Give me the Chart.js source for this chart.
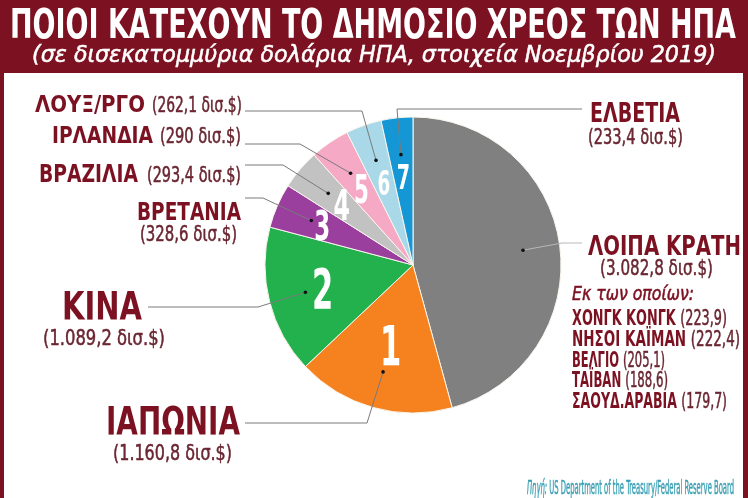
<!DOCTYPE html>
<html lang="el">
<head>
<meta charset="utf-8">
<title>Ποιοι κατέχουν το δημόσιο χρέος των ΗΠΑ</title>
<script src="https://cdn.jsdelivr.net/npm/chart.js@4.4.1/dist/chart.umd.min.js"></script>
<style>
  html, body { margin: 0; padding: 0; background: #fff; }
  #chart { display: block; }
</style>
</head>
<body>
<canvas id="chart" width="748" height="498"></canvas>
<script>
// Holders of US public debt, Nov 2019, billions USD (clockwise from 12 o'clock)
const holders = ["ΛΟΙΠΑ ΚΡΑΤΗ", "ΙΑΠΩΝΙΑ", "ΚΙΝΑ", "ΒΡΕΤΑΝΙΑ", "ΒΡΑΖΙΛΙΑ", "ΙΡΛΑΝΔΙΑ", "ΛΟΥΞ/ΡΓΟ", "ΕΛΒΕΤΙΑ"];
const holdings = [3082.8, 1160.8, 1089.2, 328.6, 293.4, 290, 262.1, 233.4];
const ranks = ["", "1", "2", "3", "4", "5", "6", "7"];

// "of which" list under the rest of the world
const otherNames = ["ΧΟΝΓΚ ΚΟΝΓΚ", "ΝΗΣΟΙ ΚΑΪΜΑΝ", "ΒΕΛΓΙΟ", "ΤΑΪΒΑΝ", "ΣΑΟΥΔ.ΑΡΑΒΙΑ"];
const otherValues = [223.9, 222.4, 205.1, 188.6, 179.7];

const title = "ΠΟΙΟΙ ΚΑΤΕΧΟΥΝ ΤΟ ΔΗΜΟΣΙΟ ΧΡΕΟΣ ΤΩΝ ΗΠΑ";
const subtitle = "(σε δισεκατομμύρια δολάρια ΗΠΑ, στοιχεία Νοεμβρίου 2019)";
const ofWhich = "Εκ των οποίων:";
const unit = "δισ.$";

// styles
const sliceColors = ["#808080", "#f6821f", "#22b14c", "#9b3f9f", "#c2c2c2", "#f5a9c5", "#a9d8e8", "#1597d5"];
const DARK_RED = "#7c1121";
const VALUE_RED = "#6a2631";
const TEAL = "#3aa0b4";
const FONT = '"DejaVu Sans Condensed", "DejaVu Sans", sans-serif';
const CAP = 0.73;

// label placement: [x, baseline, width, capHeight], leader line elbow + end
const labelLayout = [
  { name: [588, 255, 153, 20], value: [600, 275, 113, 16], line: [[562, 243], [582, 243]] },
  { name: [106, 435, 134, 29], value: [113, 460, 119, 16], line: [[367, 423], [245, 423]] },
  { name: [62, 320, 80, 28], value: [43, 345, 122, 16], line: [[258, 307], [148, 307]] },
  { name: [137, 220, 104, 18], value: [140, 241, 97, 16], line: [[263, 198], [245, 198]] },
  { name: [39, 182, 99, 18], value: [147, 182, 94, 15], line: [[283, 165], [245, 165]] },
  { name: [52, 143, 101, 17], value: [160, 143, 81, 15], line: [[300, 144], [245, 144]] },
  { name: [35, 112, 110, 17], value: [152, 112, 90, 15], line: [[362, 111], [245, 111]] },
  { name: [590, 122, 90, 20], value: [588, 144, 95, 16], line: [[397, 109], [582, 109]] }
];
const rankCaps = [0, 40, 40, 30, 31, 28, 24, 25];
const rankRadius = [0, 0.56, 0.63, 0.67, 0.63, 0.62, 0.59, 0.6];
const otherWidths = [155, 168, 93, 96, 155];

function fmtGr(v) {
  const parts = v.toFixed(1).split(".");
  const whole = parts[0].replace(/\B(?=(\d{3})+(?!\d))/g, ".");
  return parts[1] === "0" ? whole : whole + "," + parts[1];
}

function fontOf(r, size) {
  return (r.style || "normal") + " " + (r.weight || "normal") + " " + size + "px " + FONT;
}

// draws text runs squeezed horizontally to a given width
function fitText(ctx, runs, x, y, cap, width) {
  const size = cap / CAP;
  let total = 0;
  runs.forEach(r => {
    ctx.font = fontOf(r, size);
    r.w = ctx.measureText(r.text).width;
    total += r.w;
  });
  const sx = width / total;
  let cx = x;
  ctx.save();
  ctx.textAlign = "left";
  ctx.textBaseline = "alphabetic";
  runs.forEach(r => {
    ctx.font = fontOf(r, size);
    ctx.fillStyle = r.color;
    ctx.save();
    ctx.translate(cx, y);
    ctx.scale(sx, 1);
    ctx.fillText(r.text, 0, 0);
    if (r.weight !== "bold") {
      // regular runs are a touch heavier in the original
      ctx.strokeStyle = r.color;
      ctx.lineWidth = 0.5;
      ctx.strokeText(r.text, 0, 0);
    }
    ctx.restore();
    cx += r.w * sx;
  });
  ctx.restore();
}

const decorations = {
  id: "decorations",
  beforeDraw(chart) {
    const ctx = chart.ctx;
    const w = chart.width, h = chart.height;
    ctx.save();
    ctx.fillStyle = "#ffffff";
    ctx.fillRect(0, 0, w, h);
    ctx.fillStyle = DARK_RED;
    ctx.fillRect(0, 0, w, 73);
    ctx.fillRect(0, 73, 4, h - 73);
    ctx.fillRect(743, 73, w - 743, h - 73);
    ctx.restore();

    fitText(ctx, [{ text: title, weight: "bold", color: "#ffffff" }], 10, 38, 30, 726);
    fitText(ctx, [{ text: subtitle, style: "italic", color: "#ffffff" }], 32, 62, 17, 684);
  },
  afterDatasetsDraw(chart) {
    const ctx = chart.ctx;
    const arcs = chart.getDatasetMeta(0).data;

    arcs.forEach((arc, i) => {
      const mid = (arc.startAngle + arc.endAngle) / 2;
      const r = arc.outerRadius;
      const dot = [arc.x + Math.cos(mid) * r * 0.75, arc.y + Math.sin(mid) * r * 0.75];
      const lay = labelLayout[i];

      // rank number inside the slice
      if (ranks[i]) {
        const cap = rankCaps[i];
        const nx = arc.x + Math.cos(mid) * r * rankRadius[i];
        const ny = arc.y + Math.sin(mid) * r * rankRadius[i];
        ctx.save();
        ctx.font = "bold " + (cap / CAP) + "px " + FONT;
        ctx.fillStyle = "#ffffff";
        ctx.textAlign = "center";
        ctx.textBaseline = "alphabetic";
        ctx.translate(nx, ny + cap / 2);
        ctx.scale(0.62, 1);
        ctx.fillText(ranks[i], 0, 0);
        ctx.restore();
      }

      // leader line
      ctx.save();
      ctx.strokeStyle = i === 0 ? "#b8b8b8" : "#7a7a7a";
      ctx.lineWidth = 1;
      ctx.beginPath();
      ctx.moveTo(dot[0], dot[1]);
      ctx.lineTo(lay.line[0][0], lay.line[0][1]);
      ctx.lineTo(lay.line[1][0], lay.line[1][1]);
      ctx.stroke();
      ctx.fillStyle = "#111";
      ctx.beginPath();
      ctx.arc(dot[0], dot[1], 1.8, 0, Math.PI * 2);
      ctx.fill();
      ctx.restore();

      // labels
      const n = lay.name, v = lay.value;
      fitText(ctx, [{ text: holders[i], weight: "bold", color: DARK_RED }], n[0], n[1], n[3], n[2]);
      fitText(ctx, [{ text: "(" + fmtGr(holdings[i]) + " " + unit + ")", color: VALUE_RED }], v[0], v[1], v[3], v[2]);
    });

    // "of which" list
    fitText(ctx, [{ text: ofWhich, style: "italic", color: DARK_RED }], 572, 300, 14, 122);
    otherNames.forEach((name, k) => {
      fitText(ctx, [
        { text: name + " ", weight: "bold", color: DARK_RED },
        { text: "(" + fmtGr(otherValues[k]) + ")", color: VALUE_RED }
      ], 572, 325 + k * 20.8, 15, otherWidths[k]);
    });

    // source
    fitText(ctx, [
      { text: "Πηγή:", style: "italic", color: TEAL },
      { text: " US Department of the Treasury/Federal Reserve Board", color: TEAL }
    ], 527, 494, 14, 207);
  }
};

new Chart(document.getElementById("chart"), {
  type: "pie",
  data: {
    labels: holders,
    datasets: [{
      data: holdings,
      backgroundColor: sliceColors,
      borderColor: "#fbf6ee",
      borderWidth: 1
    }]
  },
  options: {
    responsive: false,
    devicePixelRatio: 1,
    animation: false,
    radius: 148,
    layout: { padding: { left: 263, right: 185, top: 115, bottom: 83 } },
    plugins: {
      legend: { display: false },
      tooltip: { enabled: false }
    }
  },
  plugins: [decorations]
});
</script>
</body>
</html>
